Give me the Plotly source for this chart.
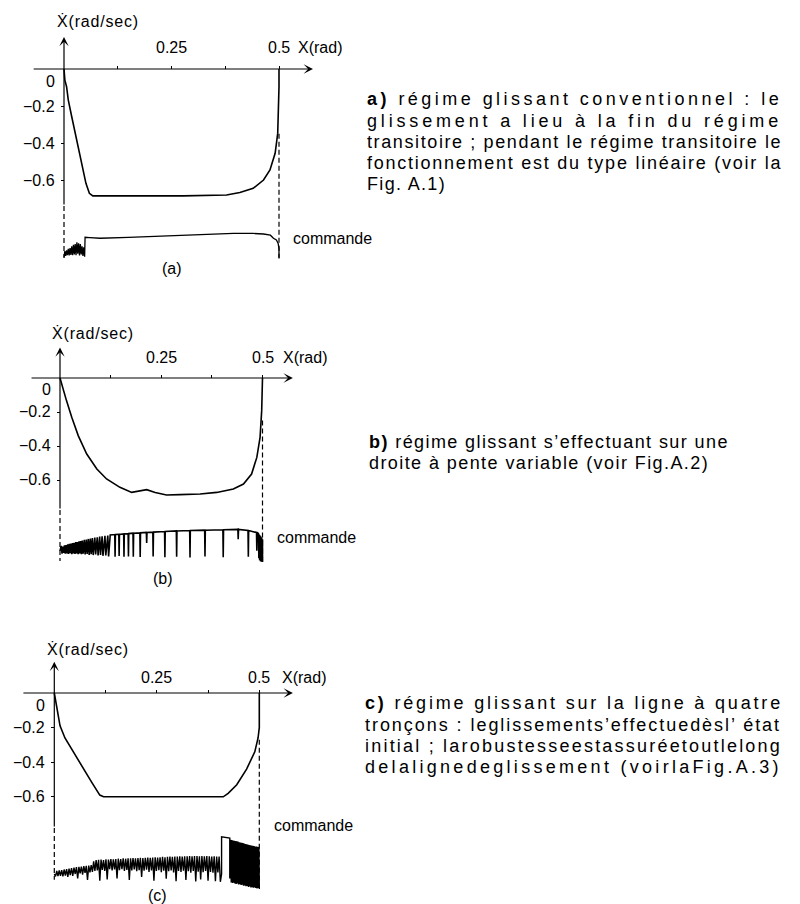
import plotly.graph_objects as go

W, H = 800, 904
FONT = "Liberation Sans, Arial, sans-serif"

# ---------------- data ----------------
# phase plane trajectories  X (rad)  ->  Xdot (rad/sec)
x_a = [0.0, 0.002, 0.006, 0.010, 0.018, 0.029, 0.041, 0.051, 0.059, 0.067, 0.161, 0.277,
       0.378, 0.409, 0.440, 0.464, 0.479, 0.491, 0.497, 0.499, 0.5, 0.5]
xd_a = [0.0, -0.06, -0.096, -0.168, -0.258, -0.384, -0.51, -0.618, -0.672, -0.686, -0.686, -0.686,
        -0.681, -0.668, -0.645, -0.60, -0.546, -0.456, -0.348, -0.222, -0.096, 0.0]

x_b = [0.0, 0.008, 0.016, 0.029, 0.045, 0.066, 0.091, 0.115, 0.148, 0.177, 0.198, 0.214, 0.235,
       0.263, 0.296, 0.346, 0.387, 0.428, 0.453, 0.473, 0.486, 0.494, 0.498, 0.5, 0.5]
xd_b = [0.0, -0.075, -0.133, -0.231, -0.339, -0.447, -0.535, -0.594, -0.643, -0.673, -0.663, -0.657,
        -0.673, -0.688, -0.686, -0.682, -0.673, -0.653, -0.624, -0.565, -0.467, -0.349, -0.192,
        -0.075, 0.0]

x_c = [0.0, 0.004, 0.007, 0.014, 0.026, 0.046, 0.071, 0.091, 0.111, 0.12, 0.412, 0.424, 0.445,
       0.469, 0.489, 0.497, 0.5, 0.5]
xd_c = [0.0, -0.05, -0.11, -0.19, -0.26, -0.34, -0.44, -0.515, -0.59, -0.60, -0.60, -0.58, -0.53,
        -0.44, -0.34, -0.26, -0.2, 0.0]

# control signal "commande" (normalised units, -1 .. 1)
cmd_a_x = [0.000, 0.002, 0.004, 0.006, 0.008, 0.010, 0.012, 0.014, 0.016, 0.018, 0.020, 0.022,
           0.024, 0.026, 0.028, 0.030, 0.032, 0.034, 0.036, 0.038, 0.040, 0.042, 0.044, 0.046,
           0.048, 0.049, 0.060, 0.084, 0.150, 0.239, 0.320, 0.394, 0.440, 0.464, 0.480, 0.487,
           0.494, 0.498, 0.500, 0.500]
cmd_a_u = [-0.85, -0.45, -0.75, -0.40, -0.70, -0.30, -0.72, -0.25, -0.68, -0.15, -0.70, -0.05,
           -0.65, 0.00, -0.70, 0.10, -0.60, 0.05, -0.72, 0.00, -0.65, -0.15, -0.75, -0.20,
           -0.80, 0.42, 0.40, 0.36, 0.42, 0.50, 0.58, 0.67, 0.66, 0.625, 0.55, 0.36,
           0.25, 0.04, -0.30, -0.90]

cmd_b_x = [0.000, 0.003, 0.005, 0.007, 0.009, 0.011, 0.013, 0.015, 0.017, 0.019, 0.021, 0.023,
           0.025, 0.027, 0.029, 0.031, 0.033, 0.035, 0.037, 0.039, 0.041, 0.043, 0.045, 0.047,
           0.049, 0.051, 0.053, 0.055, 0.057, 0.060, 0.062, 0.065, 0.067, 0.070, 0.072, 0.075,
           0.077, 0.080, 0.082, 0.086, 0.088, 0.092, 0.094, 0.098, 0.100, 0.104, 0.106, 0.111,
           0.113, 0.118, 0.120, 0.124,
           0.1352, 0.136, 0.1368, 0.1452, 0.146, 0.1468, 0.1572, 0.158, 0.1588,
           0.1682, 0.169, 0.1698, 0.1802, 0.181, 0.1818, 0.1972, 0.198, 0.1988,
           0.2132, 0.214, 0.2148, 0.2292, 0.230, 0.2308, 0.2582, 0.259, 0.2598,
           0.2872, 0.288, 0.2888, 0.3202, 0.321, 0.3218, 0.3572, 0.358, 0.3588,
           0.4022, 0.403, 0.4038, 0.4392, 0.440, 0.4408, 0.4642, 0.465, 0.4658,
           0.477, 0.4852, 0.486, 0.4868, 0.490, 0.491, 0.492, 0.493, 0.494, 0.495, 0.496,
           0.497, 0.498, 0.499, 0.500, 0.500]
cmd_b_u = [-0.30, -0.05, -0.45, -0.08, -0.42, -0.02, -0.46, 0.00, -0.44, 0.03, -0.47, 0.06,
           -0.43, 0.08, -0.48, 0.10, -0.45, 0.12, -0.47, 0.15, -0.44, 0.16, -0.48, 0.19,
           -0.45, 0.21, -0.49, 0.24, -0.46, 0.27, -0.50, 0.29, -0.47, 0.32, -0.52, 0.34,
           -0.48, 0.37, -0.53, 0.39, -0.50, 0.41, -0.55, 0.44, -0.52, 0.46, -0.57, 0.48,
           -0.55, 0.50, -0.60, 0.53,
           0.55, -0.62, 0.55, 0.56, -0.58, 0.56, 0.58, -0.62, 0.58,
           0.60, -0.60, 0.60, 0.62, -0.62, 0.62, 0.64, -0.63, 0.64,
           0.66, 0.10, 0.66, 0.68, -0.60, 0.68, 0.71, -0.65, 0.71,
           0.74, -0.62, 0.74, 0.76, -0.66, 0.76, 0.78, -0.60, 0.78,
           0.80, -0.65, 0.80, 0.82, 0.30, 0.82, 0.76, -0.62, 0.76,
           0.70, 0.66, -0.30, 0.66, 0.60, -0.70, 0.55, -0.80, 0.50, -0.85, 0.45,
           -0.88, 0.40, -0.88, 0.30, -0.90]

cmd_c_x = [0.000, 0.003, 0.006, 0.009, 0.012, 0.015, 0.018, 0.021, 0.024, 0.027, 0.030, 0.033,
           0.036, 0.039, 0.042, 0.045, 0.048, 0.051, 0.054, 0.057, 0.060, 0.063, 0.066, 0.069,
           0.072, 0.075, 0.078, 0.081, 0.084, 0.087, 0.090, 0.093, 0.096, 0.099, 0.102, 0.105,
           0.108, 0.111, 0.114, 0.117, 0.120, 0.123, 0.126, 0.129, 0.132, 0.135, 0.138, 0.141,
           0.144, 0.147, 0.150, 0.153, 0.156, 0.159, 0.162, 0.165, 0.168, 0.171, 0.174, 0.177,
           0.180, 0.183, 0.186, 0.189, 0.192, 0.195, 0.198, 0.201, 0.204, 0.207, 0.210, 0.213,
           0.216, 0.219, 0.222, 0.225, 0.228, 0.231, 0.234, 0.237, 0.240, 0.243, 0.246, 0.249,
           0.252, 0.255, 0.258, 0.261, 0.264, 0.267, 0.270, 0.273, 0.276, 0.279, 0.282, 0.285,
           0.288, 0.291, 0.294, 0.297, 0.300, 0.303, 0.306, 0.309, 0.312, 0.315, 0.318, 0.321,
           0.324, 0.327, 0.330, 0.333, 0.336, 0.339, 0.342, 0.345, 0.348, 0.351, 0.354, 0.357,
           0.360, 0.363, 0.366, 0.369, 0.372, 0.375, 0.378, 0.381, 0.384, 0.387, 0.390, 0.393,
           0.396, 0.399, 0.402, 0.405, 0.408, 0.408, 0.428, 0.428,
           0.430, 0.4315, 0.433, 0.4345, 0.436, 0.4375, 0.439, 0.4405, 0.442, 0.4435, 0.445,
           0.4465, 0.448, 0.4495, 0.451, 0.4525, 0.454, 0.4555, 0.457, 0.4585, 0.460, 0.4615,
           0.463, 0.4645, 0.466, 0.4675, 0.469, 0.4705, 0.472, 0.4735, 0.475, 0.4765, 0.478,
           0.4795, 0.481, 0.4825, 0.484, 0.4855, 0.487, 0.4885, 0.490, 0.4915, 0.493, 0.4945,
           0.496, 0.4975, 0.499, 0.500]
cmd_c_u = [-0.40, -0.48, -0.30, -0.47, -0.28, -0.46, -0.27, -0.48, -0.25, -0.45, -0.24, -0.50,
           -0.22, -0.44, -0.20, -0.46, -0.19, -0.40, -0.17, -0.55, -0.16, -0.38, -0.15, -0.42,
           -0.14, -0.36, -0.13, -0.60, -0.12, -0.35, -0.10, -0.33, 0.02, -0.30, 0.06, -0.28,
           0.07, -0.62, 0.08, -0.26, 0.06, -0.30, 0.09, -0.58, 0.08, -0.24, 0.10, -0.28,
           0.09, -0.25, 0.10, -0.55, 0.11, -0.27, 0.10, -0.24, 0.12, -0.30, 0.11, -0.26,
           0.12, -0.60, 0.12, -0.28, 0.13, -0.25, 0.12, -0.31, 0.13, -0.27, 0.14, -0.50,
           0.13, -0.29, 0.14, -0.26, 0.15, -0.33, 0.14, -0.28, 0.15, -0.62, 0.16, -0.30,
           0.15, -0.27, 0.16, -0.34, 0.17, -0.29, 0.16, -0.56, 0.17, -0.31, 0.18, -0.28,
           0.17, -0.35, 0.18, -0.64, 0.18, -0.30, 0.19, -0.33, 0.18, -0.29, 0.19, -0.60,
           0.19, -0.31, 0.20, -0.36, 0.19, -0.30, 0.20, -0.65, 0.20, -0.32, 0.19, -0.58,
           0.20, -0.34, 0.19, -0.30, 0.20, -0.62, 0.19, -0.33, 0.18, -0.36, 0.19, -0.64,
           0.18, -0.35, 0.18, -0.66, -0.40, 0.84, 0.80, -0.55,
           0.74, -0.68, 0.73, -0.70, 0.72, -0.69, 0.71, -0.72, 0.70, -0.73, 0.69,
           -0.72, 0.68, -0.75, 0.66, -0.74, 0.65, -0.77, 0.64, -0.76, 0.63, -0.79,
           0.62, -0.78, 0.60, -0.81, 0.59, -0.80, 0.58, -0.83, 0.57, -0.82, 0.56,
           -0.85, 0.55, -0.84, 0.54, -0.86, 0.53, -0.85, 0.52, -0.87, 0.52, -0.88,
           0.51, -0.87, 0.50, -0.90]

x_tick_vals = [0.125, 0.25, 0.375, 0.5]
x_tick_text = ["", "0.25", "", "0.5"]
y_tick_vals = [-0.2, -0.4, -0.6]
y_tick_text = ["−0.2", "−0.4", "−0.6"]

captions = ["(a)", "(b)", "(c)"]
text_a = ["<b>a)</b> régime glissant conventionnel : le",
          "glissement a lieu à la fin du régime",
          "transitoire ; pendant le régime transitoire le",
          "fonctionnement est du type linéaire (voir la",
          "Fig. A.1)"]
text_b = ["<b>b)</b> régime glissant s’effectuant sur une",
          "droite à pente variable (voir Fig.A.2)"]
text_c = ["<b>c)</b> régime glissant sur la ligne à quatre",
          "tronçons : leglissements’effectuedèsl’ état",
          "initial ; larobustesseestassuréetoutlelong",
          "delalignedeglissement (voirlaFig.A.3)"]

# ---------------- text metrics (Arial / Liberation Sans, 1/1000 em) ----------------
CW = {" ": 278, "a": 556, "b": 556, "c": 500, "d": 556, "e": 556, "f": 278, "g": 556,
      "h": 556, "i": 222, "j": 222, "k": 500, "l": 222, "m": 833, "n": 556, "o": 556,
      "p": 556, "q": 556, "r": 333, "s": 500, "t": 278, "u": 556, "v": 500, "w": 722,
      "x": 500, "y": 500, "z": 500, "é": 556, "è": 556, "à": 556, "ç": 500, "’": 222,
      "(": 333, ")": 333, ":": 278, ";": 278, ".": 278, "/": 278, "A": 667, "F": 611,
      "X": 667, "Ẋ": 667, "0": 556, "1": 556, "2": 556, "3": 556, "5": 556}


def plain(s):
    return s.replace("<b>", "").replace("</b>", "")


def natural_width(s, size):
    return sum(CW.get(ch, 556) for ch in plain(s)) * size / 1000.0


def spaced(s, size, target):
    n = len(plain(s))
    ls = (target - natural_width(s, size)) / n
    return '<span style="letter-spacing:%.2fpx">%s</span>' % (ls, s)


# ---------------- geometry (pixels) ----------------
panels = [
    dict(ox=64, oy=69, sx=430, sy=185, box=(0, 0, 360, 275), ct=228, cb=260,
         ytip=0.173, ysolid=-0.74, xl=-0.074, xr=0.579, dash_l=-1.02, dash_r_top=-0.35,
         dash_r_bot=-1.02, xlab=(296, 47), ylab=(55, 21), cap=(172, 268), cmd=(291, 238),
         xt_shift=22, cw=1.3),
    dict(ox=60, oy=378, sx=405, sy=170, box=(0, 300, 360, 595), ct=526, cb=564,
         ytip=0.18, ysolid=-0.776, xl=-0.074, xr=0.575, dash_l=-1.076, dash_r_top=-0.25,
         dash_r_bot=-1.085, xlab=(281, 357), ylab=(50, 333), cap=(163, 578), cmd=(275, 537),
         xt_shift=20, cw=1.6),
    dict(ox=54.3, oy=693, sx=410, sy=173, box=(0, 625, 360, 904), ct=832, cb=892,
         ytip=0.18, ysolid=-0.78, xl=-0.079, xr=0.582, dash_l=-1.08, dash_r_top=-0.27,
         dash_r_bot=-1.12, xlab=(280, 677), ylab=(45, 649), cap=(157, 895), cmd=(272, 825),
         xt_shift=16, cw=1.4),
]

phase = [(x_a, xd_a), (x_b, xd_b), (x_c, xd_c)]
cmds = [(cmd_a_x, cmd_a_u), (cmd_b_x, cmd_b_u), (cmd_c_x, cmd_c_u)]


def paper(px, py):
    return px / W, 1 - py / H


fig = go.Figure()
layout = dict(width=W, height=H, margin=dict(l=0, r=0, t=0, b=0), showlegend=False,
              paper_bgcolor="white", plot_bgcolor="white", hovermode=False,
              font=dict(family=FONT, color="black", size=15))
annotations = []
shapes = []
BLACK = "black"
LBL = 16

for i, p in enumerate(panels):
    n = i + 1
    sfx = "" if n == 1 else str(n)
    xn, yn, yc = "x" + sfx, "y" + sfx, "y" + str(n + 3)
    L, T, R, B = p["box"]
    xr = [(L - p["ox"]) / p["sx"], (R - p["ox"]) / p["sx"]]
    yr = [-(B - p["oy"]) / p["sy"], -(T - p["oy"]) / p["sy"]]
    s = (p["cb"] - p["ct"]) / 2.0
    ur = [1 - (B - p["ct"]) / s, 1 + (p["ct"] - T) / s]

    layout["xaxis" + sfx] = dict(domain=[L / W, R / W], range=xr, anchor="free",
                                 position=1 - p["oy"] / H, side="top", showline=False,
                                 showgrid=False, zeroline=False, ticks="outside", ticklen=3,
                                 tickwidth=1.2, tickcolor=BLACK, tickvals=x_tick_vals,
                                 showticklabels=False, fixedrange=True)
    layout["yaxis" + sfx] = dict(domain=[1 - B / H, 1 - T / H], range=yr, anchor="free",
                                 position=p["ox"] / W, side="left", showline=False,
                                 showgrid=False, zeroline=False, ticks="outside", ticklen=3,
                                 tickwidth=1.2, tickcolor=BLACK, tickvals=y_tick_vals,
                                 showticklabels=False, fixedrange=True)
    layout["yaxis" + str(n + 3)] = dict(overlaying=yn, range=ur, visible=False,
                                        anchor=xn, fixedrange=True)

    fig.add_trace(go.Scatter(x=phase[i][0], y=phase[i][1], mode="lines",
                             line=dict(color=BLACK, width=1.6), xaxis=xn, yaxis=yn))
    fig.add_trace(go.Scatter(x=cmds[i][0], y=cmds[i][1], mode="lines",
                             line=dict(color=BLACK, width=p["cw"]), xaxis=xn, yaxis=yc))

    # axes with arrows
    annotations.append(dict(x=p["xr"], y=0, ax=p["xl"], ay=0, xref=xn, yref=yn, axref=xn,
                            ayref=yn, text="", showarrow=True, arrowhead=3, arrowsize=1.3,
                            arrowwidth=1.2, arrowcolor=BLACK))
    annotations.append(dict(x=0, y=p["ytip"], ax=0, ay=p["ysolid"], xref=xn, yref=yn,
                            axref=xn, ayref=yn, text="", showarrow=True, arrowhead=3,
                            arrowsize=1.3, arrowwidth=1.2, arrowcolor=BLACK))
    # dashed verticals
    shapes.append(dict(type="line", xref=xn, yref=yn, x0=0, x1=0, y0=p["ysolid"],
                       y1=p["dash_l"], line=dict(color=BLACK, width=1.2, dash="5px,3px")))
    shapes.append(dict(type="line", xref=xn, yref=yn, x0=0.5, x1=0.5, y0=p["dash_r_top"],
                       y1=p["dash_r_bot"], line=dict(color=BLACK, width=1.2, dash="5px,3px")))
    # tick labels
    for v, t in zip(y_tick_vals, y_tick_text):
        annotations.append(dict(x=0, y=v, xref=xn, yref=yn, text=t, showarrow=False,
                                xanchor="right", yanchor="middle", xshift=-7,
                                font=dict(size=LBL, family=FONT)))
    annotations.append(dict(x=0, y=0, xref=xn, yref=yn, text="0", showarrow=False,
                            xanchor="right", yanchor="middle", xshift=-7, yshift=-12,
                            font=dict(size=LBL, family=FONT)))
    for v, t in zip(x_tick_vals, x_tick_text):
        if t:
            annotations.append(dict(x=v, y=0, xref=xn, yref=yn, text=t, showarrow=False,
                                    xanchor="center", yanchor="middle",
                                    yshift=p["xt_shift"], font=dict(size=LBL, family=FONT)))
    # axis titles, caption, commande
    px, py = paper(*p["xlab"])
    annotations.append(dict(x=px, y=py, xref="paper", yref="paper", text="X(rad)",
                            showarrow=False, xanchor="left", yanchor="middle",
                            font=dict(size=LBL, family=FONT)))
    px, py = paper(*p["ylab"])
    annotations.append(dict(x=px, y=py, xref="paper", yref="paper",
                            text=spaced("Ẋ(rad/sec)", LBL, 82),
                            showarrow=False, xanchor="left", yanchor="middle",
                            font=dict(size=LBL, family=FONT)))
    px, py = paper(*p["cap"])
    annotations.append(dict(x=px, y=py, xref="paper", yref="paper", text=captions[i],
                            showarrow=False, xanchor="center", yanchor="middle",
                            font=dict(size=LBL, family=FONT)))
    px, py = paper(*p["cmd"])
    annotations.append(dict(x=px, y=py, xref="paper", yref="paper", text="commande",
                            showarrow=False, xanchor="left", yanchor="middle",
                            font=dict(size=LBL, family=FONT)))

# right-hand descriptive text (justified lines stretched to the column width)
TXT = 18
blocks = [(text_a, 365, [99, 121, 142, 163, 184], [415, 415, 415, 415, 80]),
          (text_b, 367, [442, 463], [359, 340]),
          (text_c, 363, [703, 725, 746, 767], [417, 417, 417, 417])]
for lines, left, ys, widths in blocks:
    for line, ypx, wt in zip(lines, ys, widths):
        px, py = paper(left, ypx)
        annotations.append(dict(x=px, y=py, xref="paper", yref="paper",
                                text=spaced(line, TXT, wt),
                                showarrow=False, xanchor="left", yanchor="middle",
                                font=dict(size=TXT, family=FONT)))

layout["annotations"] = annotations
layout["shapes"] = shapes
fig.update_layout(**layout)
fig.write_html("out.html")
